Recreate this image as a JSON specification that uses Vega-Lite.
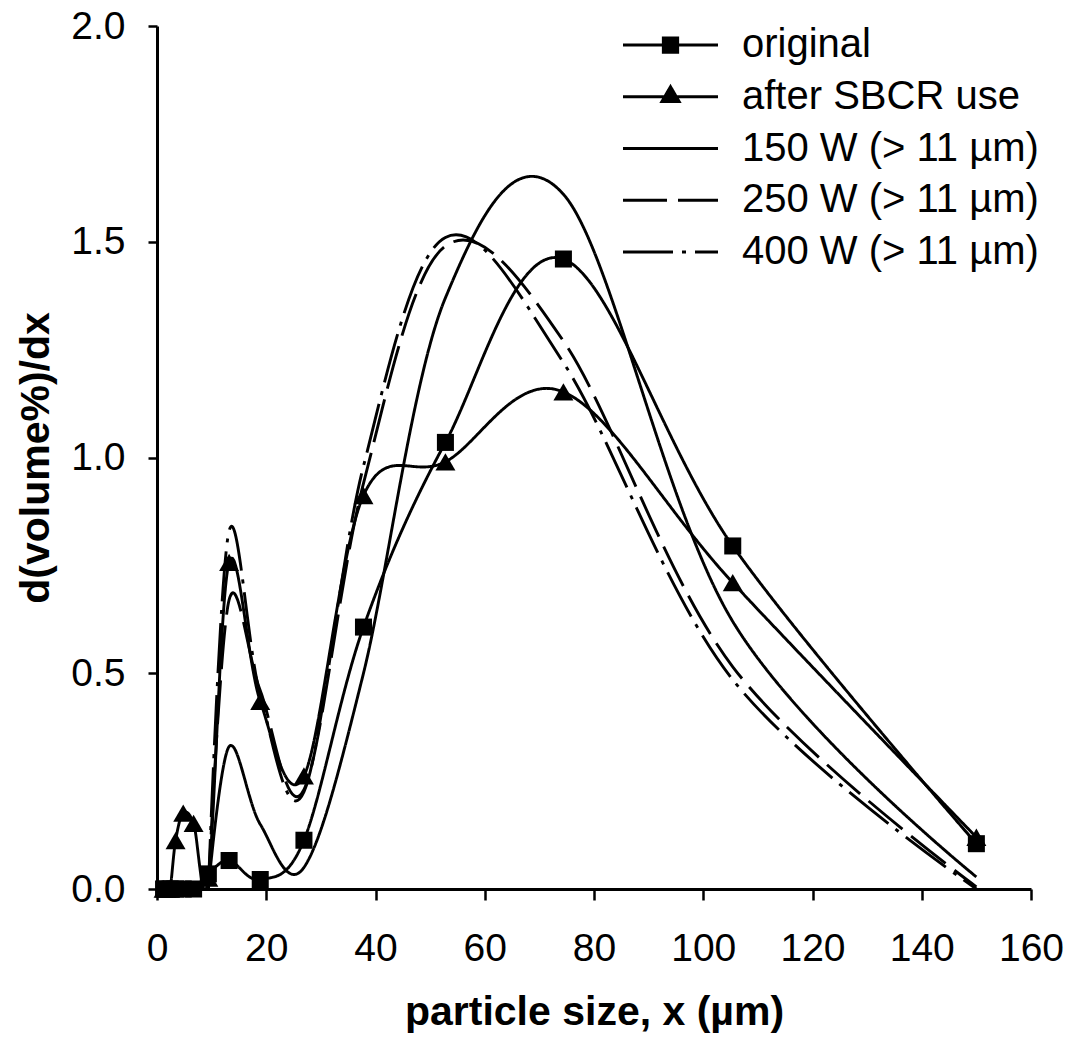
{
  "$schema": "https://vega.github.io/schema/vega-lite/v6.json",
  "width": 874,
  "height": 863,
  "autosize": {"type": "none"},
  "padding": {"left": 157, "top": 26, "right": 43, "bottom": 158},
  "background": "white",
  "config": {"view": {"stroke": null}, "font": "Liberation Sans"},
  "data": {
    "values": [
      {"series": "original", "x": 1.2, "y": 0},
      {"series": "original", "x": 1.7, "y": 0},
      {"series": "original", "x": 2.4, "y": 0},
      {"series": "original", "x": 3.4, "y": 0},
      {"series": "original", "x": 4.8, "y": 0},
      {"series": "original", "x": 6.7, "y": 0},
      {"series": "original", "x": 9.4, "y": 0.035},
      {"series": "original", "x": 13.2, "y": 0.066},
      {"series": "original", "x": 18.9, "y": 0.022},
      {"series": "original", "x": 26.9, "y": 0.113},
      {"series": "original", "x": 37.8, "y": 0.607},
      {"series": "original", "x": 52.8, "y": 1.035},
      {"series": "original", "x": 74.4, "y": 1.46},
      {"series": "original", "x": 105.4, "y": 0.795},
      {"series": "original", "x": 150, "y": 0.105},
      {"series": "after SBCR use", "x": 1.2, "y": 0},
      {"series": "after SBCR use", "x": 1.7, "y": 0},
      {"series": "after SBCR use", "x": 2.4, "y": 0},
      {"series": "after SBCR use", "x": 3.4, "y": 0.112},
      {"series": "after SBCR use", "x": 4.8, "y": 0.176},
      {"series": "after SBCR use", "x": 6.7, "y": 0.152},
      {"series": "after SBCR use", "x": 9.4, "y": 0.025},
      {"series": "after SBCR use", "x": 13.2, "y": 0.757},
      {"series": "after SBCR use", "x": 18.9, "y": 0.435},
      {"series": "after SBCR use", "x": 26.9, "y": 0.262},
      {"series": "after SBCR use", "x": 37.8, "y": 0.912},
      {"series": "after SBCR use", "x": 52.8, "y": 0.99},
      {"series": "after SBCR use", "x": 74.4, "y": 1.152},
      {"series": "after SBCR use", "x": 105.4, "y": 0.71},
      {"series": "after SBCR use", "x": 150, "y": 0.12},
      {"series": "150 W (> 11 µm)", "x": 9.4, "y": 0},
      {"series": "150 W (> 11 µm)", "x": 13.2, "y": 0.33},
      {"series": "150 W (> 11 µm)", "x": 18.9, "y": 0.15},
      {"series": "150 W (> 11 µm)", "x": 26.9, "y": 0.05},
      {"series": "150 W (> 11 µm)", "x": 37.8, "y": 0.5},
      {"series": "150 W (> 11 µm)", "x": 52.8, "y": 1.37},
      {"series": "150 W (> 11 µm)", "x": 74.4, "y": 1.61},
      {"series": "150 W (> 11 µm)", "x": 105.4, "y": 0.62},
      {"series": "150 W (> 11 µm)", "x": 150, "y": 0.028},
      {"series": "250 W (> 11 µm)", "x": 9.4, "y": 0},
      {"series": "250 W (> 11 µm)", "x": 13.2, "y": 0.67},
      {"series": "250 W (> 11 µm)", "x": 18.9, "y": 0.46},
      {"series": "250 W (> 11 µm)", "x": 26.9, "y": 0.23},
      {"series": "250 W (> 11 µm)", "x": 37.8, "y": 0.94},
      {"series": "250 W (> 11 µm)", "x": 52.8, "y": 1.49},
      {"series": "250 W (> 11 µm)", "x": 74.4, "y": 1.27},
      {"series": "250 W (> 11 µm)", "x": 105.4, "y": 0.515},
      {"series": "250 W (> 11 µm)", "x": 150, "y": 0.005},
      {"series": "400 W (> 11 µm)", "x": 9.4, "y": 0},
      {"series": "400 W (> 11 µm)", "x": 13.2, "y": 0.83},
      {"series": "400 W (> 11 µm)", "x": 18.9, "y": 0.45},
      {"series": "400 W (> 11 µm)", "x": 26.9, "y": 0.225},
      {"series": "400 W (> 11 µm)", "x": 37.8, "y": 0.98},
      {"series": "400 W (> 11 µm)", "x": 52.8, "y": 1.51},
      {"series": "400 W (> 11 µm)", "x": 74.4, "y": 1.22},
      {"series": "400 W (> 11 µm)", "x": 105.4, "y": 0.485},
      {"series": "400 W (> 11 µm)", "x": 150, "y": 0}
    ]
  },
  "encoding": {
    "x": {
      "field": "x", "type": "quantitative",
      "scale": {"domain": [0, 160], "nice": false},
      "axis": {
        "values": [0, 20, 40, 60, 80, 100, 120, 140, 160],
        "title": "particle size, x (µm)",
        "titleFont": "Liberation Sans", "titleFontSize": 41, "titleFontWeight": "bold", "titleColor": "black",
        "titlePadding": 24,
        "labelFont": "Liberation Sans", "labelFontSize": 39, "labelColor": "black", "labelPadding": 29,
        "labelFlush": false, "labelOverlap": false,
        "tickSize": 11, "tickWidth": 2.5, "tickColor": "black",
        "domainColor": "black", "domainWidth": 3, "grid": false
      }
    },
    "y": {
      "field": "y", "type": "quantitative",
      "scale": {"domain": [0, 2], "nice": false},
      "axis": {
        "values": [0, 0.5, 1, 1.5, 2],
        "format": ".1f",
        "title": "d(volume%)/dx",
        "titleFont": "Liberation Sans", "titleFontSize": 41, "titleFontWeight": "bold", "titleColor": "black",
        "titlePadding": 13,
        "labelFont": "Liberation Sans", "labelFontSize": 39, "labelColor": "black", "labelPadding": 23,
        "labelFlush": false, "labelOverlap": false,
        "tickSize": 9, "tickWidth": 2.5, "tickColor": "black",
        "domainColor": "black", "domainWidth": 3, "grid": false
      }
    }
  },
  "layer": [
    {
      "mark": {"type": "line", "interpolate": "cardinal", "tension": 0, "color": "black", "strokeWidth": 2.9, "clip": true},
      "encoding": {
        "strokeDash": {
          "field": "series", "type": "nominal",
          "scale": {
            "domain": ["original", "after SBCR use", "150 W (> 11 µm)", "250 W (> 11 µm)", "400 W (> 11 µm)"],
            "range": [[1, 0], [1, 0], [1, 0], [44, 11], [50, 9, 4, 9]]
          },
          "legend": {
            "orient": "none", "legendX": 464.5, "legendY": -5,
            "title": null, "padding": 0,
            "symbolType": "stroke", "symbolSize": 9025, "symbolStrokeWidth": 3, "symbolStrokeColor": "black",
            "clipHeight": 48, "rowPadding": 3.75, "labelOffset": 22.5,
            "labelFont": "Liberation Sans", "labelFontSize": 40, "labelColor": "black", "labelLimit": 0,
            "encode": {
              "symbols": {
                "update": {
                  "shape": {"signal": "datum.value === 'original' ? 'M-1,0H1M-0.15,-0.15H0.15V0.15H-0.15Z' : datum.value === 'after SBCR use' ? 'M-1,0H1M0,-0.21L0.18,0.1H-0.18Z' : 'M-1,0H1'"},
                  "fill": {"value": "black"},
                  "stroke": {"value": "black"}
                }
              }
            }
          }
        }
      }
    },
    {
      "transform": [{"filter": "datum.series === 'original' || datum.series === 'after SBCR use'"}],
      "mark": {"type": "point", "filled": true, "opacity": 1, "color": "black"},
      "encoding": {
        "shape": {
          "field": "series", "type": "nominal",
          "scale": {"domain": ["original", "after SBCR use"], "range": ["square", "triangle-up"]},
          "legend": null
        },
        "size": {
          "field": "series", "type": "nominal",
          "scale": {"domain": ["original", "after SBCR use"], "range": [290, 400]},
          "legend": null
        }
      }
    }
  ]
}
